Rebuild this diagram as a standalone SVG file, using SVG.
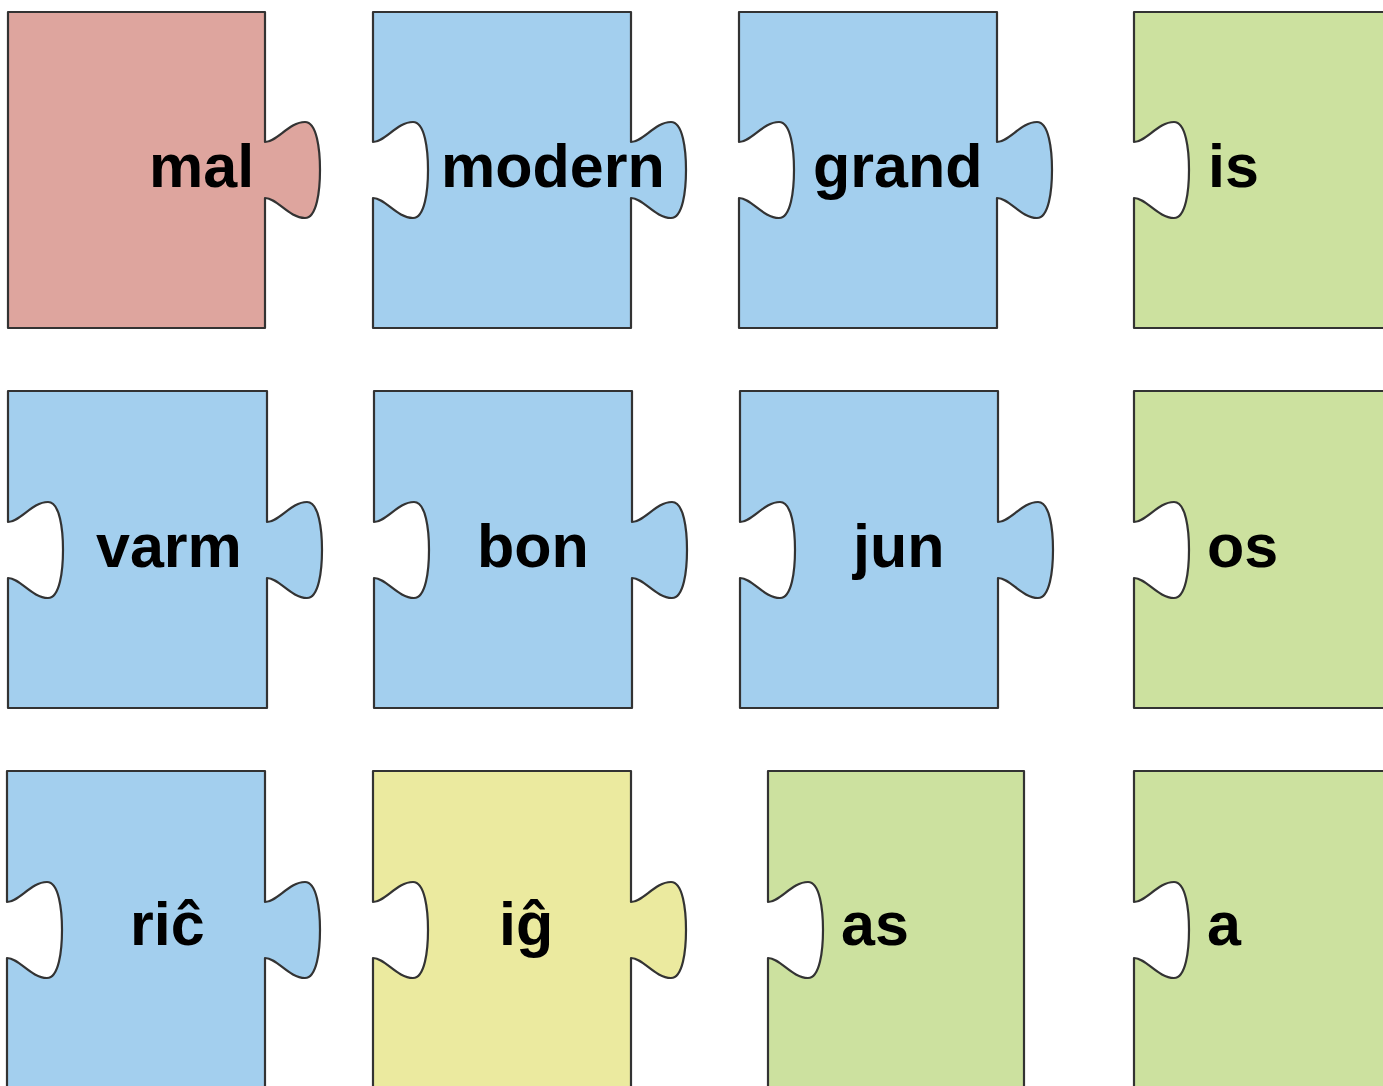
<svg xmlns="http://www.w3.org/2000/svg" width="1383" height="1086" viewBox="0 0 1383 1086">
<style>
.p{stroke:#333;stroke-width:2.2;stroke-linejoin:round}
.red{fill:#dea59e}.blue{fill:#a3cfee}.green{fill:#cce19f}.yellow{fill:#ebea9f}
.t{font-family:"Liberation Sans",Arial,Helvetica,sans-serif;font-weight:bold;font-size:61px;fill:#000}
</style>
<rect width="1383" height="1086" fill="#fff"/>
<g id="mal">
<path class="p red" d="M8,12 H265 V142 c12,0 24,-20 40,-20 c12,0 15,28 15,48 c0,20 -3,48 -15,48 c-16,0 -28,-20 -40,-20 V328 H8 Z"/>
<text class="t" x="149" y="187">mal</text>
</g>
<g id="modern">
<path class="p blue" d="M373,12 H631 V142 c12,0 24,-20 40,-20 c12,0 15,28 15,48 c0,20 -3,48 -15,48 c-16,0 -28,-20 -40,-20 V328 H373 V198 c12,0 24,20 40,20 c12,0 15,-28 15,-48 c0,-20 -3,-48 -15,-48 c-16,0 -28,20 -40,20 Z"/>
<text class="t" x="441" y="187">modern</text>
</g>
<g id="grand">
<path class="p blue" d="M739,12 H997 V142 c12,0 24,-20 40,-20 c12,0 15,28 15,48 c0,20 -3,48 -15,48 c-16,0 -28,-20 -40,-20 V328 H739 V198 c12,0 24,20 40,20 c12,0 15,-28 15,-48 c0,-20 -3,-48 -15,-48 c-16,0 -28,20 -40,20 Z"/>
<text class="t" x="813" y="187">grand</text>
</g>
<g id="is">
<path class="p green" d="M1134,12 H1400 V328 H1134 V198 c12,0 24,20 40,20 c12,0 15,-28 15,-48 c0,-20 -3,-48 -15,-48 c-16,0 -28,20 -40,20 Z"/>
<text class="t" x="1208" y="187">is</text>
</g>
<g id="varm">
<path class="p blue" d="M8,391 H267 V522 c12,0 24,-20 40,-20 c12,0 15,28 15,48 c0,20 -3,48 -15,48 c-16,0 -28,-20 -40,-20 V708 H8 V578 c12,0 24,20 40,20 c12,0 15,-28 15,-48 c0,-20 -3,-48 -15,-48 c-16,0 -28,20 -40,20 Z"/>
<text class="t" x="96" y="567">varm</text>
</g>
<g id="bon">
<path class="p blue" d="M374,391 H632 V522 c12,0 24,-20 40,-20 c12,0 15,28 15,48 c0,20 -3,48 -15,48 c-16,0 -28,-20 -40,-20 V708 H374 V578 c12,0 24,20 40,20 c12,0 15,-28 15,-48 c0,-20 -3,-48 -15,-48 c-16,0 -28,20 -40,20 Z"/>
<text class="t" x="477" y="567">bon</text>
</g>
<g id="jun">
<path class="p blue" d="M740,391 H998 V522 c12,0 24,-20 40,-20 c12,0 15,28 15,48 c0,20 -3,48 -15,48 c-16,0 -28,-20 -40,-20 V708 H740 V578 c12,0 24,20 40,20 c12,0 15,-28 15,-48 c0,-20 -3,-48 -15,-48 c-16,0 -28,20 -40,20 Z"/>
<text class="t" x="853" y="567">jun</text>
</g>
<g id="os">
<path class="p green" d="M1134,391 H1400 V708 H1134 V578 c12,0 24,20 40,20 c12,0 15,-28 15,-48 c0,-20 -3,-48 -15,-48 c-16,0 -28,20 -40,20 Z"/>
<text class="t" x="1207" y="567">os</text>
</g>
<g id="ric">
<path class="p blue" d="M7,771 H265 V902 c12,0 24,-20 40,-20 c12,0 15,28 15,48 c0,20 -3,48 -15,48 c-16,0 -28,-20 -40,-20 V1100 H7 V958 c12,0 24,20 40,20 c12,0 15,-28 15,-48 c0,-20 -3,-48 -15,-48 c-16,0 -28,20 -40,20 Z"/>
<text class="t" x="130" y="945">riĉ</text>
</g>
<g id="ig">
<path class="p yellow" d="M373,771 H631 V902 c12,0 24,-20 40,-20 c12,0 15,28 15,48 c0,20 -3,48 -15,48 c-16,0 -28,-20 -40,-20 V1100 H373 V958 c12,0 24,20 40,20 c12,0 15,-28 15,-48 c0,-20 -3,-48 -15,-48 c-16,0 -28,20 -40,20 Z"/>
<text class="t" x="499" y="945">iĝ</text>
</g>
<g id="as">
<path class="p green" d="M768,771 H1024 V1100 H768 V958 c12,0 24,20 40,20 c12,0 15,-28 15,-48 c0,-20 -3,-48 -15,-48 c-16,0 -28,20 -40,20 Z"/>
<text class="t" x="841" y="945">as</text>
</g>
<g id="a">
<path class="p green" d="M1134,771 H1400 V1100 H1134 V958 c12,0 24,20 40,20 c12,0 15,-28 15,-48 c0,-20 -3,-48 -15,-48 c-16,0 -28,20 -40,20 Z"/>
<text class="t" x="1207" y="945">a</text>
</g>
</svg>
